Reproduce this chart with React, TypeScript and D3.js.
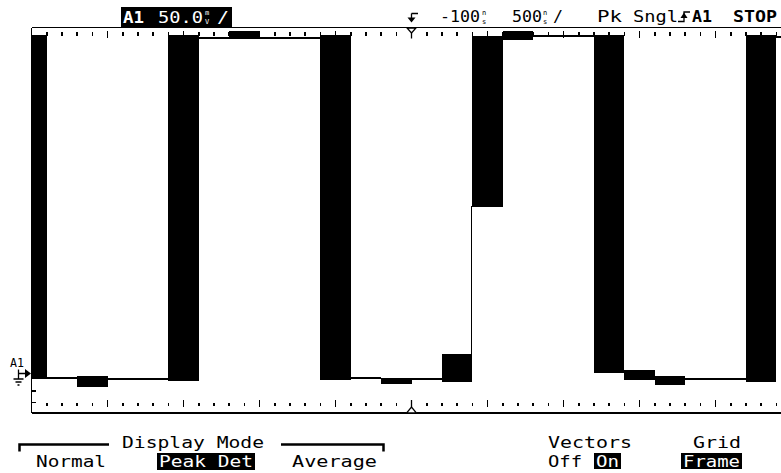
import React from "react";
import * as d3 from "d3";

const WIDTH = 781;
const HEIGHT = 473;

// Horizontal: 500 ns/div, delay -100 ns, 10 divisions of 5 minor ticks
const timePerDivNs = 500;
const delayNs = -100;
const horizontalDivs = 10;
const minorPerDiv = 5;

// Vertical: 50 mV/div, 8 divisions, ground reference = 0 mV
const voltsPerDivMv = 50;
const screenBottomMv = -36;
const verticalDivs = 8;
const leftMinorTickMv = [-25, -13];

// Peak-detect buckets (200 ns each): max / min per bucket, in mV
const bucketStartNs = -2700;
const bucketWidthNs = 200;
const peakMaxMv = [355, 0, 1.6, -0.9, -0.9, 355, 353, 359, 353, 353, 355, 0, -0.7, -0.8, 24.2, 354, 359, 355, 355, 355, 7.6, 1.3, -0.5, -0.5, 355, 354];
const peakMinMv = [0, 0, -7.7, -0.9, -0.9, -2, 353, 353, 353, 353, -1, 0, -4.5, -0.8, -2.8, 179, 352, 355, 355, 6.5, -0.7, -5.9, -0.5, -0.5, -2.8, 354];

// Header / softkey texts
const channelLabel = "A1";
const scaleLabel = "50.0";
const delayLabel = "-100";
const timebaseLabel = "500";
const acqLabels = ["Pk", "Sngl"];
const displayModes = ["Normal", "Peak Det", "Average"];

const FONT = "'DejaVu Sans Mono', 'Liberation Mono', monospace";

function Stacked({ x, top, bottom, fill }: { x: number; top: string; bottom: string; fill: string }) {
  return (
    <g fill={fill} fontSize={7}>
      <text x={x} y={14.8}>{top}</text>
      <text x={x} y={23.6}>{bottom}</text>
    </g>
  );
}

export default function App() {
  const x = d3
    .scaleLinear()
    .domain([delayNs - (horizontalDivs / 2) * timePerDivNs, delayNs + (horizontalDivs / 2) * timePerDivNs])
    .range([31.5, 791.5]);
  const y = d3
    .scaleLinear()
    .domain([screenBottomMv, screenBottomMv + verticalDivs * voltsPerDivMv])
    .range([413, 27.5]);

  const [t0] = x.domain();
  const minorStep = timePerDivNs / minorPerDiv;
  const tickIdx = d3.range(1, horizontalDivs * minorPerDiv + 1).filter((i) => i !== (horizontalDivs * minorPerDiv) / 2);

  const buckets = peakMaxMv.map((mx, k) => {
    const s = bucketStartNs + k * bucketWidthNs;
    return { x0: x(s), x1: x(s + bucketWidthNs), yTop: y(mx) - 1, yBot: y(peakMinMv[k]) + 1 };
  });

  const vectors: { xv: number; ya: number; yb: number }[] = [];
  for (let k = 0; k < peakMaxMv.length - 1; k++) {
    const xv = x(bucketStartNs + (k + 1) * bucketWidthNs) - 1;
    if (peakMaxMv[k] < peakMinMv[k + 1]) vectors.push({ xv, ya: y(peakMaxMv[k]), yb: y(peakMinMv[k + 1]) });
    else if (peakMinMv[k] > peakMaxMv[k + 1]) vectors.push({ xv, ya: y(peakMinMv[k]), yb: y(peakMaxMv[k + 1]) });
  }

  const frameLeft = x.range()[0];
  const frameTop = y.range()[1];
  const frameBottom = y.range()[0];
  const centerX = x(delayNs);

  return (
    <svg
      width={WIDTH}
      height={HEIGHT}
      viewBox={`0 0 ${WIDTH} ${HEIGHT}`}
      style={{ position: "fixed", left: 0, top: 0, background: "#fff" }}
      fontFamily={FONT}
    >
      <rect x={0} y={0} width={WIDTH} height={HEIGHT} fill="#fff" />
      <defs>
        <clipPath id="plotClip">
          <rect x={frameLeft} y={0} width={WIDTH} height={frameBottom} />
        </clipPath>
      </defs>

      {/* Frame */}
      <g stroke="#000" strokeWidth={1.5} shapeRendering="crispEdges" fill="none">
        <line x1={frameLeft} x2={WIDTH} y1={frameTop} y2={frameTop} />
        <line x1={frameLeft} x2={WIDTH} y1={frameBottom} y2={frameBottom} />
        <line x1={frameLeft} x2={frameLeft} y1={frameTop} y2={frameBottom} />
      </g>

      {/* Horizontal ticks */}
      <g stroke="#000" strokeWidth={1.6} shapeRendering="crispEdges">
        {tickIdx.map((i) => {
          const xt = x(t0 + i * minorStep);
          const major = i % minorPerDiv === 0;
          return (
            <g key={i}>
              <line x1={xt} x2={xt} y1={major ? 31 : 32} y2={major ? 38 : 35.5} />
              <line x1={xt} x2={xt} y1={major ? 400 : 402.5} y2={major ? 407 : 405.5} />
            </g>
          );
        })}
        {leftMinorTickMv.map((v) => (
          <line key={v} x1={frameLeft} x2={frameLeft + 4} y1={y(v)} y2={y(v)} />
        ))}
      </g>

      {/* Center markers */}
      <g stroke="#000" strokeWidth={1.3} fill="#fff">
        <path d={`M${centerX - 4.5},${frameTop + 0.5} L${centerX + 4.5},${frameTop + 0.5} L${centerX},${frameTop + 5.5} Z`} />
        <line x1={centerX} x2={centerX} y1={frameTop + 5.5} y2={frameTop + 11} />
        <path d={`M${centerX - 5},${frameBottom} L${centerX + 5},${frameBottom} L${centerX},${frameBottom - 6} Z`} />
        <line x1={centerX} x2={centerX} y1={frameBottom - 6} y2={frameBottom - 13} />
      </g>

      {/* Waveform (peak detect) */}
      <g clipPath="url(#plotClip)" shapeRendering="crispEdges">
        {buckets.map((b, k) => (
          <rect key={k} x={b.x0} y={b.yTop} width={b.x1 - b.x0} height={b.yBot - b.yTop} fill="#000" />
        ))}
        {vectors.map((v, k) => (
          <line key={k} x1={v.xv} x2={v.xv} y1={v.ya} y2={v.yb} stroke="#000" strokeWidth={1.3} />
        ))}
      </g>

      {/* Ground reference marker */}
      <text x={10} y={367} fontSize={12} textLength={14} lengthAdjust="spacingAndGlyphs" fill="#000">
        {channelLabel}
      </text>
      <g stroke="#000" strokeWidth={1.3} fill="none">
        <path d="M18.5,369.5 V379 M18.5,373.5 H26" />
        <path d="M13.5,379 H23.5 M15.5,382 H21.5 M17.5,385 H19.5" />
      </g>
      <path d="M25,369 L31,373.5 L25,378 Z" fill="#000" />

      {/* Header: channel scale box */}
      <rect x={121} y={7} width={111} height={20} fill="#000" />
      <g fill="#fff">
        <text x={123} y={23} fontSize={15} fontWeight="bold" textLength={21} lengthAdjust="spacingAndGlyphs">
          {channelLabel}
        </text>
        <text x={158} y={23} fontSize={15} textLength={45} lengthAdjust="spacingAndGlyphs">
          {scaleLabel}
        </text>
        <text x={217} y={23} fontSize={15} textLength={12} lengthAdjust="spacingAndGlyphs">/</text>
      </g>
      <Stacked x={205} top="m" bottom="V" fill="#fff" />

      {/* Header: timebase & status */}
      <g stroke="#000" strokeWidth={1.3} fill="none">
        <path d="M411.5,13.5 H418 M411.5,13.5 V21" />
      </g>
      <path d="M407.5,17.5 L415.5,17.5 L411.5,22.5 Z" fill="#000" />
      <g fill="#000">
        <text x={440} y={22} fontSize={15} textLength={40} lengthAdjust="spacingAndGlyphs">{delayLabel}</text>
        <text x={512} y={22} fontSize={15} textLength={30} lengthAdjust="spacingAndGlyphs">{timebaseLabel}</text>
        <text x={553} y={22} fontSize={15} textLength={10} lengthAdjust="spacingAndGlyphs">/</text>
        <text x={597} y={22} fontSize={15} textLength={25} lengthAdjust="spacingAndGlyphs">{acqLabels[0]}</text>
        <text x={633} y={22} fontSize={15} textLength={45} lengthAdjust="spacingAndGlyphs">{acqLabels[1]}</text>
        <text x={692} y={22} fontSize={15} fontWeight="bold" textLength={20} lengthAdjust="spacingAndGlyphs">{channelLabel}</text>
        <text x={733} y={22} fontSize={15} fontWeight="bold" textLength={44} lengthAdjust="spacingAndGlyphs">STOP</text>
      </g>
      <Stacked x={482} top="n" bottom="s" fill="#000" />
      <Stacked x={543} top="n" bottom="s" fill="#000" />
      <g stroke="#000" strokeWidth={1.3} fill="none">
        <path d="M678,21.5 H684 V12 H690" />
      </g>
      <path d="M680.5,18 L687.5,18 L684,12.5 Z" fill="#000" />

      {/* Softkeys */}
      <g stroke="#000" strokeWidth={2.5} fill="none">
        <path d="M19.5,451.5 V444.5 H109" />
        <path d="M281,444.5 H383.5 V451.5" />
      </g>
      <g fill="#000" fontSize={16}>
        <text x={122} y={448} textLength={142} lengthAdjust="spacingAndGlyphs">Display Mode</text>
        <text x={36} y={467} textLength={70} lengthAdjust="spacingAndGlyphs">{displayModes[0]}</text>
        <text x={292} y={467} textLength={85} lengthAdjust="spacingAndGlyphs">{displayModes[2]}</text>
        <text x={548} y={448} textLength={84} lengthAdjust="spacingAndGlyphs">Vectors</text>
        <text x={548} y={467} textLength={34} lengthAdjust="spacingAndGlyphs">Off</text>
        <text x={693} y={448} textLength={48} lengthAdjust="spacingAndGlyphs">Grid</text>
      </g>
      <rect x={157} y={453} width={98} height={17} fill="#000" />
      <rect x={594} y={453} width={27} height={16} fill="#000" />
      <rect x={681} y={453} width={61} height={16} fill="#000" />
      <g fill="#fff" fontSize={16}>
        <text x={159} y={467} textLength={94} lengthAdjust="spacingAndGlyphs">{displayModes[1]}</text>
        <text x={596} y={467} textLength={23} lengthAdjust="spacingAndGlyphs">On</text>
        <text x={683} y={467} textLength={57} lengthAdjust="spacingAndGlyphs">Frame</text>
      </g>
    </svg>
  );
}
